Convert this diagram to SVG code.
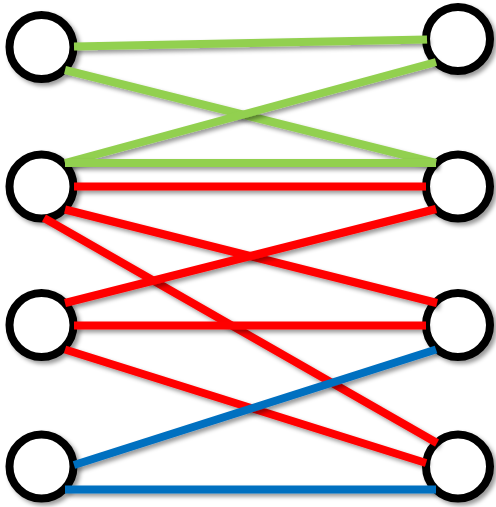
<svg xmlns="http://www.w3.org/2000/svg" width="496" height="507" viewBox="0 0 496 507">
<defs>
<filter id="sh" filterUnits="userSpaceOnUse" x="0" y="0" width="496" height="507">
<feDropShadow dx="3" dy="3" stdDeviation="2.2" flood-color="#000" flood-opacity="0.4"/>
</filter>
</defs>
<style>
.node circle{fill:#fff;stroke:#000;stroke-width:8;filter:url(#sh)}
.e{stroke-width:8;stroke-linecap:butt;fill:none;filter:url(#sh)}
.g{stroke:#92D050}
.r{stroke:#FF0000}
.b{stroke:#0070C0}
</style>
<rect width="496" height="507" fill="#fff"/>
<g id="L1" class="node"><circle cx="41.5" cy="47" r="32"/></g>
<g id="R1" class="node"><circle cx="458" cy="39" r="32"/></g>
<g id="L2" class="node"><circle cx="41.5" cy="186.5" r="32"/></g>
<g id="R2" class="node"><circle cx="458" cy="186.5" r="32"/></g>
<g id="L3" class="node"><circle cx="41.5" cy="325" r="32"/></g>
<g id="R3" class="node"><circle cx="458" cy="325" r="32"/></g>
<g id="L4" class="node"><circle cx="41.5" cy="466.5" r="32"/></g>
<g id="R4" class="node"><circle cx="458" cy="466.5" r="32"/></g>
<g id="connectors">
<line class="e g" x1="74" y1="46.5" x2="427" y2="39.5"/>
<line class="e g" x1="65" y1="70" x2="436" y2="163"/>
<line class="e g" x1="436" y1="62" x2="65" y2="163"/>
<line class="e g" x1="65" y1="163" x2="436" y2="163"/>
<line class="e r" x1="74" y1="186.5" x2="426" y2="186.5"/>
<line class="e r" x1="65" y1="209.5" x2="437" y2="303"/>
<line class="e r" x1="44" y1="218" x2="437" y2="443"/>
<line class="e r" x1="436" y1="209" x2="65" y2="303"/>
<line class="e r" x1="74" y1="325.5" x2="426" y2="325.5"/>
<line class="e r" x1="65" y1="349.5" x2="426" y2="463"/>
<line class="e b" x1="74" y1="465" x2="436" y2="349.5"/>
<line class="e b" x1="65" y1="489.5" x2="436" y2="489.5"/>
</g>
</svg>
